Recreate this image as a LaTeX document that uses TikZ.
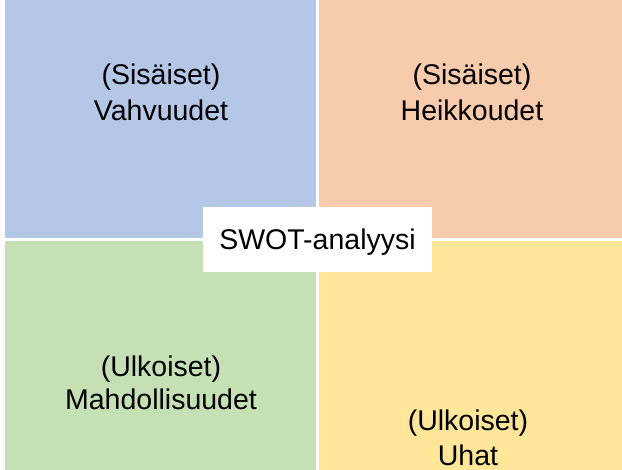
\documentclass[tikz,border=0pt]{standalone}
\usepackage{fontspec}
\setmainfont{Liberation Sans}
\definecolor{qblue}{HTML}{B4C7E7}
\definecolor{qorange}{HTML}{F8CBAD}
\definecolor{qgreen}{HTML}{C5E0B4}
\definecolor{qyellow}{HTML}{FFE699}
\tikzset{
  quad/.style={draw=none, inner sep=0pt, outer sep=0pt},
  lbl/.style={anchor=base, inner sep=0pt, font=\fontsize{28.5}{34}\selectfont, text=black},
  centerbox/.style={fill=white, draw=none, inner sep=0pt, outer sep=0pt}
}
\begin{document}
\begin{tikzpicture}[x=1pt, y=-1pt]
\useasboundingbox[fill=white] (0,0) rectangle (622,470);
\fill[qblue]   (5,0)   rectangle (316,238);
\fill[qorange] (319,0) rectangle (622,238);
\fill[qgreen]  (5,241) rectangle (316,470);
\fill[qyellow] (319,241) rectangle (622,470);
\node[quad] (tl) at (160.5,119) {};
\node[quad] (tr) at (470.5,119) {};
\node[quad] (bl) at (160.5,355) {};
\node[quad] (br) at (470.5,355) {};
\node[lbl] (tl1) at (161,85) {(Sisäiset)};
\node[lbl] (tl2) at (161,121) {Vahvuudet};
\node[lbl] (tr1) at (472,85) {(Sisäiset)};
\node[lbl] (tr2) at (472,121) {Heikkoudet};
\node[lbl] (bl1) at (161,377) {(Ulkoiset)};
\node[lbl] (bl2) at (161,410) {Mahdollisuudet};
\node[lbl] (br1) at (468,431) {(Ulkoiset)};
\node[lbl, text depth=0pt] (br2) at (468,466) {Uhat};
\fill[white] (203,207) rectangle (432,272);
\node[lbl] (swot) at (317.5,250) {SWOT-analyysi};
\end{tikzpicture}
\end{document}
